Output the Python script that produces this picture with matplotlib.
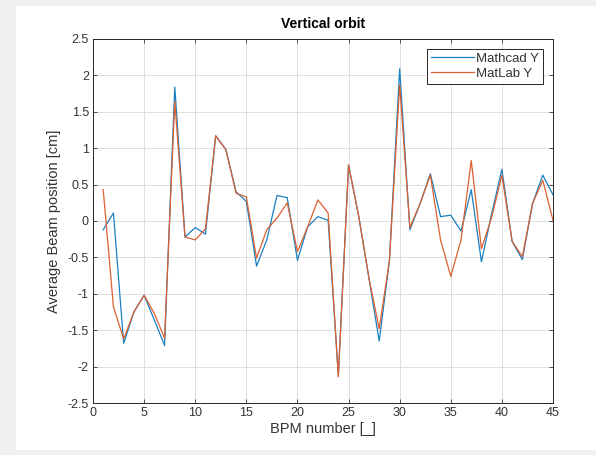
import numpy as np
import matplotlib.pyplot as plt
from matplotlib.patches import Rectangle

plt.rcParams['font.family'] = ['Liberation Sans', 'DejaVu Sans']

bpm = list(range(1, 46))
mathcad_y = [-0.12, 0.11, -1.68, -1.25, -1.02, -1.36, -1.71, 1.84, -0.22, -0.09,
             -0.18, 1.17, 0.98, 0.40, 0.27, -0.62, -0.26, 0.35, 0.32, -0.54,
             -0.08, 0.06, 0.01, -2.12, 0.77, 0.06, -0.79, -1.65, -0.54, 2.09,
             -0.12, 0.24, 0.65, 0.06, 0.08, -0.14, 0.43, -0.56, 0.10, 0.71,
             -0.28, -0.53, 0.24, 0.63, 0.36]
matlab_y = [0.43, -1.18, -1.62, -1.25, -1.02, -1.27, -1.61, 1.64, -0.22, -0.26,
            -0.11, 1.17, 0.98, 0.38, 0.33, -0.51, -0.12, 0.04, 0.25, -0.42,
            -0.08, 0.29, 0.11, -2.14, 0.77, 0.06, -0.79, -1.48, -0.54, 1.87,
            -0.09, 0.24, 0.63, -0.26, -0.76, -0.26, 0.83, -0.38, 0.05, 0.63,
            -0.28, -0.49, 0.24, 0.56, 0.01]

fig = plt.figure(figsize=(5.96, 4.55), dpi=100, facecolor='#f0f0f0')
fig.patches.append(Rectangle((16 / 596, 1 - 450 / 455), 580 / 596, 444 / 455,
                             transform=fig.transFigure, facecolor='white',
                             edgecolor='none', zorder=-10))

ax = fig.add_axes([93 / 596, 1 - 403 / 455, 460 / 596, 364 / 455])
ax.plot(bpm, mathcad_y, color='#1a7fc0', lw=0.9, label='Mathcad Y')
ax.plot(bpm, matlab_y, color='#dc6030', lw=0.9, label='MatLab Y')

ax.set_xlim(0, 45)
ax.set_ylim(-2.5, 2.5)
ax.set_xticks(np.arange(0, 46, 5))
ax.set_yticks(np.arange(-2.5, 2.51, 0.5))
ax.set_yticklabels(['-2.5', '-2', '-1.5', '-1', '-0.5', '0', '0.5', '1', '1.5', '2', '2.5'])
ax.grid(True, color='#dfdfdf', lw=0.7)
ax.set_axisbelow(True)
ax.tick_params(direction='in', top=True, right=True, labelsize=9,
               colors='#333333', length=3, width=0.6, pad=3)
for s in ax.spines.values():
    s.set_color('#262626')
    s.set_linewidth(0.7)

ax.set_title('Vertical orbit', fontsize=10, fontweight='bold', pad=8)
ax.set_xlabel('BPM number [_]', fontsize=10.5, color='#333333', labelpad=2)
ax.set_ylabel('Average Beam position [cm]', fontsize=10.5, color='#333333', labelpad=5)

leg = ax.legend(loc='upper right', fontsize=9.5, handlelength=3.3,
                fancybox=False, framealpha=1, borderpad=0.3,
                labelspacing=0.2, handletextpad=0.15, borderaxespad=0.75)
leg.get_frame().set_edgecolor('#262626')
leg.get_frame().set_linewidth(0.7)
for t in leg.get_texts():
    t.set_color('#333333')

fig.savefig('out.png', dpi=100, facecolor=fig.get_facecolor())
